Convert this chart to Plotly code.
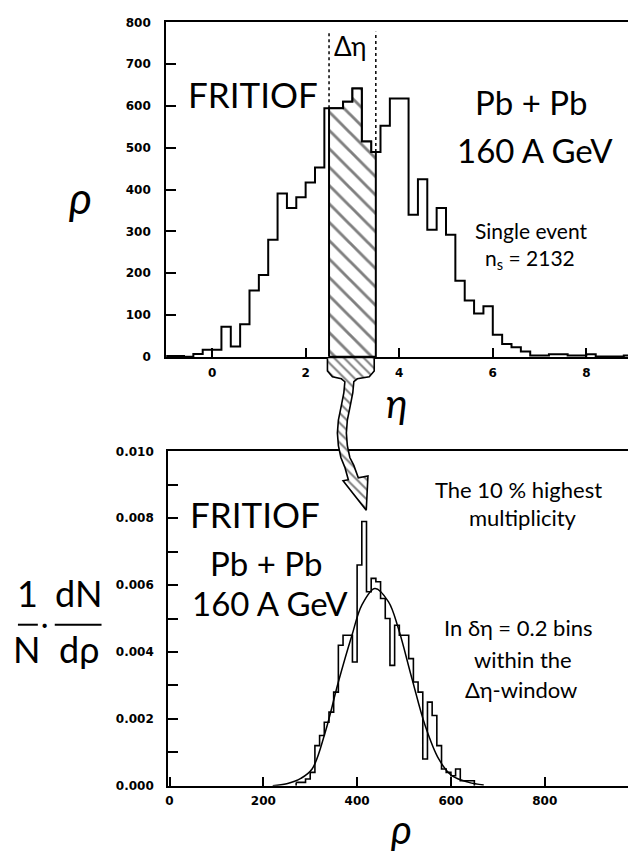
import plotly.graph_objects as go

W, H = 628, 855

# ---------------- top panel data: single event pseudorapidity density ----------------
eta_lo = [-1.0, -0.8, -0.6, -0.4, -0.2, 0.0, 0.2, 0.4, 0.6, 0.8,
          1.0, 1.2, 1.4, 1.6, 1.8, 2.0, 2.2, 2.4, 2.6, 2.8,
          3.0, 3.2, 3.4, 3.6, 3.8, 4.0, 4.2, 4.4, 4.6, 4.8,
          5.0, 5.2, 5.4, 5.6, 5.8, 6.0, 6.2, 6.4, 6.6, 6.8,
          7.0, 7.2, 7.4, 7.6, 7.8, 8.0, 8.2, 8.4, 8.6, 8.8]
rho_counts = [2, 2, 0, 7, 17, 17, 72, 25, 78, 159,
              196, 280, 391, 356, 382, 417, 453, 595, 595, 610,
              642, 515, 490, 553, 618, 618, 340, 425, 304, 356,
              292, 182, 135, 104, 121, 53, 31, 23, 13, 3,
              3, 6, 6, 3, 3, 6, 1, 1, 1, 3]
eta_bin = 0.2
window = (2.5, 3.5)
top_xticks = [0, 2, 4, 6, 8]
top_yticks = [0, 100, 200, 300, 400, 500, 600, 700, 800]

# ---------------- bottom panel data: rho distribution ----------------
rho_lo = [270, 280, 290, 300, 310, 320, 330, 340, 350, 360,
          370, 380, 390, 400, 410, 420, 430, 440, 450, 460,
          470, 480, 490, 500, 510, 520, 530, 540, 550, 560,
          570, 580, 590, 600, 610, 620, 630, 640]
dN_drho = [0.0001, 0.0001, 0.0002, 0.0004, 0.0012, 0.0015, 0.0019, 0.0022, 0.0028, 0.0042,
           0.0045, 0.0045, 0.0037, 0.0066, 0.0079, 0.0058, 0.0062, 0.0061, 0.0056, 0.0050,
           0.0036, 0.0048, 0.0045, 0.0045, 0.0038, 0.0031, 0.0028, 0.0008, 0.0025, 0.0021,
           0.0012, 0.0005, 0.0004, 0.0003, 0.0005, 0.00015, 0.00015, 0.00015]
rho_bin = 10
fit_rho = [220, 250, 280, 304, 332, 360, 389, 410, 438, 467, 488, 517, 545, 574, 602, 638, 670]
fit_val = [0.0, 0.00006, 0.00022, 0.0005, 0.0016, 0.0031, 0.0045, 0.0054, 0.0059, 0.0055,
           0.0047, 0.0032, 0.0018, 0.0008, 0.0003, 0.0001, 0.00002]
bot_xticks = [0, 200, 400, 600, 800]
bot_yticks = [0.000, 0.002, 0.004, 0.006, 0.008, 0.010]

# ---------------- layout geometry (pixels) ----------------
TOP_L, TOP_T, TOP_B = 164, 15.7, 355.7
BOT_L, BOT_T, BOT_B = 166, 451.7, 791.7

FONT = "Lato, DejaVu Sans, sans-serif"
TICKFONT = dict(family="DejaVu Sans", size=12, color="black", weight="bold")


def px2paper(xp, yp):
    return xp / W, 1 - yp / H


fig = go.Figure()

# top histogram outline
fig.add_trace(go.Scatter(
    x=eta_lo + [eta_lo[-1] + eta_bin], y=rho_counts + [rho_counts[-1]],
    mode="lines", line=dict(shape="hv", color="black", width=2),
    xaxis="x", yaxis="y", showlegend=False, hoverinfo="skip"))


def h_at(x):
    for lo, c in zip(eta_lo, rho_counts):
        if lo <= x < lo + eta_bin - 1e-9:
            return c
    return 0


# hatched window polygon, derived from the histogram arrays
hx, hy = [window[0], window[0]], [0, h_at(window[0])]
prev = h_at(window[0])
for lo, c in zip(eta_lo, rho_counts):
    if window[0] < lo < window[1]:
        hx += [lo, lo]
        hy += [prev, c]
        prev = c
hx += [window[1], window[1], window[0]]
hy += [prev, 0, 0]
fig.add_trace(go.Scatter(
    x=hx, y=hy, mode="lines", fill="toself",
    line=dict(color="black", width=2),
    fillcolor="white",
    fillpattern=dict(shape="\\", size=13, solidity=0.22, fgcolor="black", bgcolor="white"),
    xaxis="x", yaxis="y", showlegend=False, hoverinfo="skip"))

# dotted window borders
for wx in window:
    hv = h_at(wx - 1e-6) if wx == window[1] else h_at(wx)
    fig.add_trace(go.Scatter(
        x=[wx, wx], y=[hv, 778], mode="lines",
        line=dict(color="black", width=1.5, dash="dot"),
        xaxis="x", yaxis="y", showlegend=False, hoverinfo="skip"))

# bottom histogram
fig.add_trace(go.Scatter(
    x=rho_lo + [rho_lo[-1] + rho_bin, rho_lo[-1] + rho_bin],
    y=dN_drho + [dN_drho[-1], 0],
    mode="lines", line=dict(shape="hv", color="black", width=1.6),
    xaxis="x2", yaxis="y2", showlegend=False, hoverinfo="skip"))
fig.add_trace(go.Scatter(
    x=[rho_lo[0], rho_lo[0]], y=[0, dN_drho[0]],
    mode="lines", line=dict(color="black", width=1.6),
    xaxis="x2", yaxis="y2", showlegend=False, hoverinfo="skip"))
# fitted curve
fig.add_trace(go.Scatter(
    x=fit_rho, y=fit_val, mode="lines",
    line=dict(shape="spline", smoothing=1.0, color="black", width=1.5),
    xaxis="x2", yaxis="y2", showlegend=False, hoverinfo="skip"))

# ---------------- curved hatched arrow (pixel overlay) ----------------
arrow_left = [(326, 357), (326, 370), (331, 376), (340, 378), (343.5, 381), (342.5, 392),
              (340, 405), (337, 420), (336, 433), (337, 446), (339.5, 458), (343.5, 468),
              (347, 480.6), (341.7, 481.7), (365, 511.7)]
arrow_right = [(366.7, 476.7), (357, 478.6), (352.5, 466), (348.5, 458), (346, 446),
               (345, 433), (346, 420), (349, 405), (351.5, 392), (352.5, 381), (356, 378),
               (368, 376), (373, 370), (373, 357)]
pts = arrow_left + arrow_right
ax_ = [p[0] for p in pts]
ay_ = [p[1] for p in pts]
fig.add_trace(go.Scatter(
    x=ax_ + [ax_[0]], y=ay_ + [ay_[0]], mode="lines", fill="toself",
    line=dict(width=0, color="rgba(0,0,0,0)"), fillcolor="white",
    fillpattern=dict(shape="\\", size=7, solidity=0.28, fgcolor="black", bgcolor="white"),
    xaxis="x3", yaxis="y3", showlegend=False, hoverinfo="skip"))
fig.add_trace(go.Scatter(
    x=ax_, y=ay_, mode="lines", line=dict(color="black", width=1.6),
    xaxis="x3", yaxis="y3", showlegend=False, hoverinfo="skip"))

# ---------------- axes ----------------
common = dict(showgrid=False, zeroline=False, showline=True, linecolor="black",
              linewidth=2, ticks="inside", tickcolor="black", tickwidth=1.5,
              tickfont=TICKFONT)

layout = dict(
    width=W, height=H, margin=dict(l=0, r=0, t=0, b=0),
    paper_bgcolor="white", plot_bgcolor="rgba(0,0,0,0)", showlegend=False,
    xaxis=dict(domain=[TOP_L / W, 1], range=[-0.98, 8.89], tickvals=top_xticks,
               ticklen=9, mirror=True, anchor="y", ticklabelstandoff=4, **common),
    yaxis=dict(domain=[1 - TOP_B / H, 1 - TOP_T / H], range=[0, 800], tickvals=top_yticks,
               ticklen=10, anchor="x", ticklabelstandoff=11, **common),
    xaxis2=dict(domain=[BOT_L / W, 1], range=[-2.8, 977.6], tickvals=bot_xticks,
                ticklen=9, mirror=True, anchor="y2", ticklabelstandoff=3, **common),
    yaxis2=dict(domain=[1 - BOT_B / H, 1 - BOT_T / H], range=[0, 0.010],
                tickvals=bot_yticks, tickformat=".3f",
                minor=dict(dtick=0.001, tick0=0, ticks="inside", ticklen=10,
                           tickcolor="black", tickwidth=1.5, showgrid=False),
                ticklen=10, anchor="x2", ticklabelstandoff=10, **common),
    xaxis3=dict(domain=[0, 1], range=[0, W], visible=False, anchor="y3", fixedrange=True),
    yaxis3=dict(domain=[0, 1], range=[H, 0], visible=False, anchor="x3", fixedrange=True),
)
fig.update_layout(**layout)

# ---------------- text ----------------
annots = []


def ann(text, xp, yp, size, xanchor="center", italic=False, family=FONT):
    x, y = px2paper(xp, yp)
    annots.append(dict(text=text, x=x, y=y, xref="paper", yref="paper",
                       xanchor=xanchor, yanchor="middle", showarrow=False,
                       font=dict(family=family, size=size, color="black",
                                 style="italic" if italic else "normal")))


# top panel
ann("FRITIOF", 251, 88, 35)
ann("Pb + Pb", 531, 97, 33)
ann("160 A GeV", 535, 145, 33)
ann("Single event", 531, 227, 21)
ann("n<sub>s</sub> = 2132", 530, 256, 21)
ann("Δη", 349, 40, 26)
ann("ρ", 78, 193, 44, italic=True)
ann("η", 396, 403, 40, italic=True)

# bottom panel
ann("FRITIOF", 253, 515, 35)
ann("Pb + Pb", 264, 565, 33)
ann("160 A GeV", 268, 606, 33)
ann("The 10 % highest", 518, 491, 22)
ann("multiplicity", 522, 519, 22)
ann("In δη = 0.2 bins", 518, 631, 22)
ann("within the", 522, 663, 22)
ann("Δη-window", 520, 694, 22)
ann("ρ", 400, 836, 40, italic=True)

# bottom y label: 1/N . dN/drho
ann("1", 25, 596, 36)
ann("dN", 76, 596, 36)
ann("N", 24, 653, 36)
ann("dρ", 76, 653, 36)
ann("·", 42, 626, 28)

fig.update_layout(annotations=annots)

shapes = []
for x0, x1 in [(15, 35), (52, 99)]:
    a0 = px2paper(x0, 628)
    a1 = px2paper(x1, 628)
    shapes.append(dict(type="line", xref="paper", yref="paper",
                       x0=a0[0], y0=a0[1], x1=a1[0], y1=a1[1],
                       line=dict(color="black", width=2)))
fig.update_layout(shapes=shapes)

fig.write_html("out.html")
